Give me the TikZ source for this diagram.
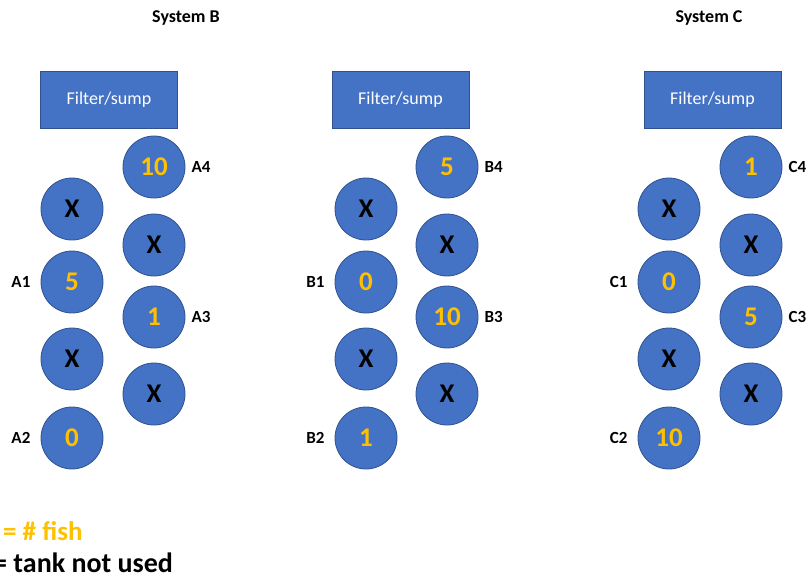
\documentclass[tikz,border=0pt]{standalone}
\usepackage{fontspec}
\setmainfont{Carlito}
\usetikzlibrary{positioning}
\definecolor{tankblue}{HTML}{4472C4}
\definecolor{tankedge}{HTML}{2F528F}
\definecolor{fishgold}{HTML}{FFC000}

\begin{document}
\begin{tikzpicture}[x=1pt, y=-1pt,
  tank/.style={circle, draw=tankedge, fill=tankblue, line width=0.8pt, minimum size=62pt, inner sep=0pt, font=\fontsize{27}{30}\selectfont\bfseries},
  used/.style={tank, text=fishgold},
  unused/.style={tank, text=black},
  sump/.style={rectangle, draw=tankedge, fill=tankblue, line width=0.8pt, minimum width=137pt, minimum height=57pt, text=white, font=\fontsize{18}{20}\selectfont},
  tag/.style={inner sep=0pt, font=\fontsize{17}{19}\selectfont\bfseries},
  heading/.style={anchor=base, inner sep=0pt, font=\fontsize{18}{20}\selectfont\bfseries},
  key/.style={anchor=base west, inner sep=0pt, font=\fontsize{28}{31}\selectfont\bfseries}]
  \useasboundingbox (0,0) rectangle (806,581);
  \clip (0,0) rectangle (806,581);
  \node[heading] (headB) at (186,22) {System B};
  \node[heading] (headC) at (709,22) {System C};
  % one system per column pair: left column, right column, sump, then fish counts
  \foreach \s/\l/\r/\f/\na/\nb/\nc/\nd in {A/72/154/109/5/0/1/10, B/366/447/400.5/0/1/10/5, C/669/751/712.5/0/10/5/1} {
    \node[sump] (sump\s) at (\f,99.5) {Filter/sump};
    \node[unused] (x\s1) at (\l,209) {X};
    \node[used] (t\s1) at (\l,282) {\na};
    \node[unused] (x\s2) at (\l,359) {X};
    \node[used] (t\s2) at (\l,438) {\nb};
    \node[used] (t\s4) at (\r,167) {\nd};
    \node[unused] (x\s3) at (\r,245) {X};
    \node[used] (t\s3) at (\r,317) {\nc};
    \node[unused] (x\s4) at (\r,394) {X};
    \node[tag, left=10pt of t\s1] (tag\s1) {\s1};
    \node[tag, left=10pt of t\s2] (tag\s2) {\s2};
    \node[tag, right=6pt of t\s3] (tag\s3) {\s3};
    \node[tag, right=6pt of t\s4] (tag\s4) {\s4};
  }
  \node[key, text=fishgold, font=\fontsize{27}{30}\selectfont\bfseries] (keyfish) at (3,540) {= \# fish};
  \node[key, text=black] (keyx) at (-7,572) {= tank not used};
\end{tikzpicture}
\end{document}
